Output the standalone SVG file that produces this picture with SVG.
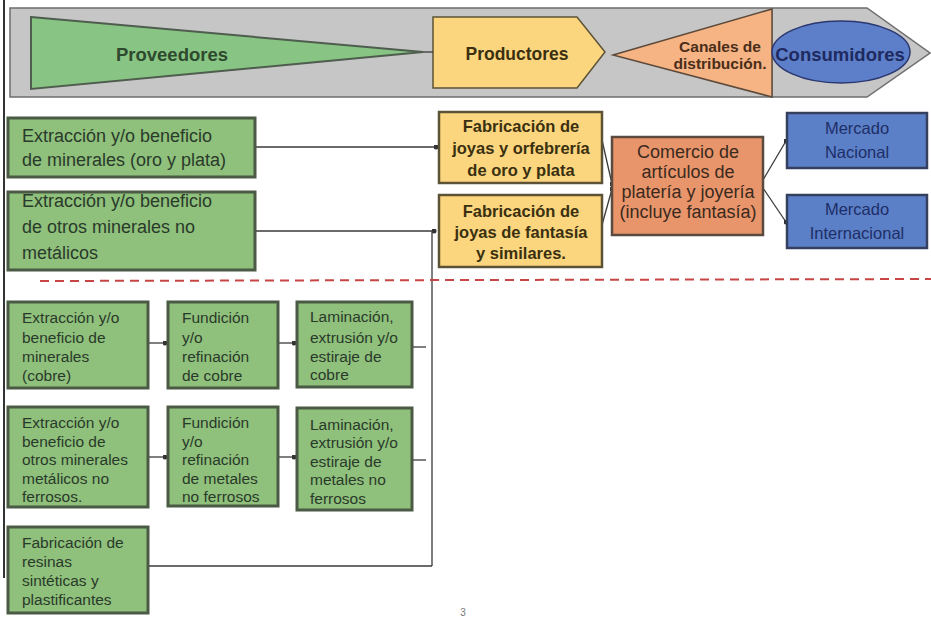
<svg xmlns="http://www.w3.org/2000/svg" width="931" height="635" viewBox="0 0 931 635">
<defs>
<marker id="dot" viewBox="0 0 6 6" refX="3" refY="3" markerWidth="5" markerHeight="5" markerUnits="userSpaceOnUse">
<circle cx="3" cy="3" r="3" fill="#333"/>
</marker>
<style>
text{font-family:"Liberation Sans",Arial,sans-serif}
.gb{fill:#8fc07c;stroke:#4a5a45;stroke-width:3}
.yb{fill:#fcd67e;stroke:#5c5337;stroke-width:2.5}
.ob{fill:#e9956b;stroke:#5a4a40;stroke-width:2.5}
.bb{fill:#5b80c8;stroke:#34405e;stroke-width:2.5}
.gt{font-size:18px;fill:#2a3a2a}
.st{font-size:15.5px;fill:#2a3a2a}
.yt{font-size:16.5px;font-weight:bold;fill:#3a3010;text-anchor:middle}
.ot{font-size:18px;fill:#3a2a1e;text-anchor:middle}
.bt{font-size:16.5px;fill:#1e2e66;text-anchor:middle}
.hd{font-weight:bold;text-anchor:middle}
.cn{fill:none;stroke:#3a3a3a;stroke-width:1.3}
</style>
</defs>
<rect width="931" height="635" fill="#ffffff"/>
<line x1="4" y1="0" x2="4" y2="578" stroke="#333" stroke-width="2"/>

<g id="banner">
<polygon points="10,8 867,8 930,53 867,97 10,97" fill="#c6c6c6" stroke="#6e6e6e" stroke-width="1.5"/>
<line x1="772" y1="9" x2="772" y2="97" stroke="#6e6e6e" stroke-width="1"/>
</g>
<g id="proveedores">
<polygon points="31,17 423,52 31,89" fill="#88c483" stroke="#4e5d4e" stroke-width="2"/>
<text x="172" y="61" class="hd" font-size="18.5" fill="#2e4a2e">Proveedores</text>
</g>
<g id="productores">
<polygon points="433,17 577,17 605,52 577,88 433,88" fill="#fcd67e" stroke="#5c5337" stroke-width="1.5"/>
<text x="517" y="60" class="hd" font-size="17.5" fill="#3a3010">Productores</text>
</g>
<g id="canales">
<polygon points="613,55 772,9 772,97" fill="#f6b383" stroke="#5c4a3a" stroke-width="1.5"/>
<text x="720" y="52" class="hd" font-size="15.5" fill="#4a2e1a">Canales de</text>
<text x="720" y="69" class="hd" font-size="15.5" fill="#4a2e1a">distribución.</text>
</g>
<g id="consumidores">
<ellipse cx="841" cy="52" rx="69" ry="31" fill="#5d7fc9" stroke="#2b3770" stroke-width="1.5"/>
<text x="840" y="61" class="hd" font-size="18.5" fill="#1e2a60">Consumidores</text>
</g>

<g id="connectors">
<line x1="423" y1="52" x2="433" y2="52" class="cn"/>
<line x1="255" y1="147" x2="436" y2="147" class="cn" marker-end="url(#dot)"/>
<line x1="255" y1="231" x2="434" y2="231" class="cn" marker-end="url(#dot)"/>
<line x1="432" y1="231" x2="432" y2="566" class="cn"/>
<line x1="148" y1="566" x2="432" y2="566" class="cn"/>
<line x1="602" y1="140" x2="612" y2="184" class="cn" marker-end="url(#dot)"/>
<line x1="602" y1="225" x2="612" y2="189" class="cn" marker-end="url(#dot)"/>
<line x1="763" y1="180" x2="786" y2="141" class="cn" marker-end="url(#dot)"/>
<line x1="763" y1="188" x2="786" y2="222" class="cn" marker-end="url(#dot)"/>
<line x1="148" y1="343" x2="165" y2="343" class="cn" marker-end="url(#dot)"/>
<line x1="278" y1="343" x2="294" y2="343" class="cn" marker-end="url(#dot)"/>
<line x1="412" y1="347" x2="426" y2="347" class="cn"/>
<line x1="148" y1="457" x2="165" y2="457" class="cn" marker-end="url(#dot)"/>
<line x1="278" y1="457" x2="294" y2="457" class="cn" marker-end="url(#dot)"/>
<line x1="412" y1="460" x2="426" y2="460" class="cn"/>
</g>

<line x1="40" y1="281" x2="931" y2="279" stroke="#c84545" stroke-width="2" stroke-dasharray="9 6"/>

<g id="ext-oro-plata">
<rect x="8" y="118" width="247" height="59" class="gb"/>
<text x="22" y="142" class="gt">Extracción y/o beneficio</text>
<text x="22" y="166" class="gt">de minerales (oro y plata)</text>
</g>
<g id="ext-no-metalicos">
<rect x="8" y="192" width="247" height="78" class="gb"/>
<text x="22" y="207" class="gt">Extracción y/o beneficio</text>
<text x="22" y="233" class="gt">de otros minerales no</text>
<text x="22" y="259" class="gt">metálicos</text>
</g>

<g id="fab-joyas-oro">
<rect x="439" y="112" width="163" height="71" class="yb"/>
<text x="521" y="132" class="yt">Fabricación de</text>
<text x="521" y="154" class="yt">joyas y orfebrería</text>
<text x="521" y="176" class="yt">de oro y plata</text>
</g>
<g id="fab-joyas-fantasia">
<rect x="439" y="195" width="163" height="72" class="yb"/>
<text x="521" y="217" class="yt">Fabricación de</text>
<text x="521" y="238" class="yt">joyas de fantasía</text>
<text x="521" y="259" class="yt">y similares.</text>
</g>

<g id="comercio">
<rect x="612" y="137" width="151" height="98" class="ob"/>
<text x="688" y="158" class="ot">Comercio de</text>
<text x="688" y="178" class="ot">artículos de</text>
<text x="688" y="198" class="ot">platería y joyería</text>
<text x="688" y="218" class="ot">(incluye fantasía)</text>
</g>

<g id="mercado-nacional">
<rect x="787" y="113" width="140" height="55" class="bb"/>
<text x="857" y="134" class="bt">Mercado</text>
<text x="857" y="158" class="bt">Nacional</text>
</g>
<g id="mercado-internacional">
<rect x="787" y="195" width="140" height="53" class="bb"/>
<text x="857" y="215" class="bt">Mercado</text>
<text x="857" y="239" class="bt">Internacional</text>
</g>

<g id="ext-cobre">
<rect x="8" y="302" width="140" height="86" class="gb"/>
<text x="22" y="323" class="st">Extracción y/o</text>
<text x="22" y="342.5" class="st">beneficio de</text>
<text x="22" y="362" class="st">minerales</text>
<text x="22" y="381" class="st">(cobre)</text>
</g>
<g id="fund-cobre">
<rect x="168" y="302" width="110" height="86" class="gb"/>
<text x="182" y="323" class="st">Fundición</text>
<text x="182" y="342.5" class="st">y/o</text>
<text x="182" y="362" class="st">refinación</text>
<text x="182" y="381" class="st">de cobre</text>
</g>
<g id="lam-cobre">
<rect x="297" y="302" width="115" height="85" class="gb"/>
<text x="310" y="322" class="st">Laminación,</text>
<text x="310" y="342.5" class="st">extrusión y/o</text>
<text x="310" y="362" class="st">estiraje de</text>
<text x="310" y="380" class="st">cobre</text>
</g>

<g id="ext-no-ferrosos">
<rect x="8" y="407" width="140" height="100" class="gb"/>
<text x="22" y="428" class="st">Extracción y/o</text>
<text x="22" y="446.6" class="st">beneficio de</text>
<text x="22" y="465.2" class="st">otros minerales</text>
<text x="22" y="483.8" class="st">metálicos no</text>
<text x="22" y="502.4" class="st">ferrosos.</text>
</g>
<g id="fund-no-ferrosos">
<rect x="168" y="407" width="110" height="99" class="gb"/>
<text x="182" y="428" class="st">Fundición</text>
<text x="182" y="446.6" class="st">y/o</text>
<text x="182" y="465.2" class="st">refinación</text>
<text x="182" y="483.8" class="st">de metales</text>
<text x="182" y="502.4" class="st">no ferrosos</text>
</g>
<g id="lam-no-ferrosos">
<rect x="297" y="408" width="115" height="102" class="gb"/>
<text x="310" y="430" class="st">Laminación,</text>
<text x="310" y="448.4" class="st">extrusión y/o</text>
<text x="310" y="466.8" class="st">estiraje de</text>
<text x="310" y="485.2" class="st">metales no</text>
<text x="310" y="503.6" class="st">ferrosos</text>
</g>

<g id="resinas">
<rect x="8" y="527" width="140" height="86" class="gb"/>
<text x="22" y="548" class="st">Fabricación de</text>
<text x="22" y="567" class="st">resinas</text>
<text x="22" y="586" class="st">sintéticas y</text>
<text x="22" y="605" class="st">plastificantes</text>
</g>

<text x="463" y="616" font-size="10" fill="#777" text-anchor="middle">3</text>
</svg>
